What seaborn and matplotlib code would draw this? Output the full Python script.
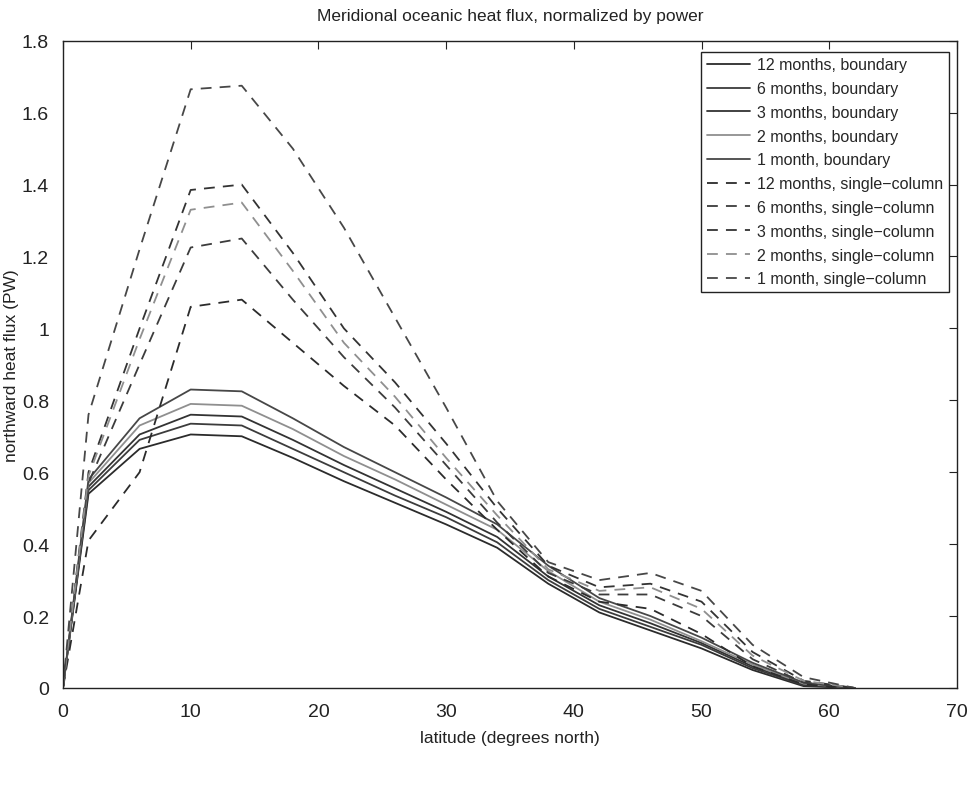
import numpy as np
import pandas as pd
import matplotlib
matplotlib.use("Agg")
import matplotlib.pyplot as plt
import seaborn as sns

latitude = [0, 2, 6, 10, 14, 18, 22, 26, 30, 34, 38, 42, 46, 50, 54, 58, 62]

# boundary (solid)
b12 = [0, 0.54, 0.665, 0.705, 0.700, 0.640, 0.575, 0.515, 0.455, 0.390, 0.290, 0.210, 0.160, 0.110, 0.050, 0.005, 0]
b6  = [0, 0.55, 0.690, 0.735, 0.730, 0.665, 0.600, 0.535, 0.475, 0.405, 0.300, 0.220, 0.170, 0.120, 0.055, 0.008, 0]
b3  = [0, 0.56, 0.705, 0.760, 0.755, 0.690, 0.620, 0.555, 0.490, 0.420, 0.310, 0.230, 0.180, 0.125, 0.060, 0.010, 0]
b2  = [0, 0.57, 0.730, 0.790, 0.785, 0.720, 0.645, 0.580, 0.510, 0.440, 0.325, 0.240, 0.190, 0.130, 0.065, 0.012, 0]
b1  = [0, 0.58, 0.750, 0.830, 0.825, 0.750, 0.670, 0.600, 0.530, 0.455, 0.340, 0.250, 0.200, 0.140, 0.070, 0.015, 0]

# single-column (dashed)
s12 = [0, 0.41, 0.600, 1.060, 1.080, 0.960, 0.840, 0.730, 0.580, 0.440, 0.310, 0.240, 0.220, 0.150, 0.060, 0.010, 0]
s6  = [0, 0.57, 0.900, 1.225, 1.250, 1.080, 0.920, 0.780, 0.620, 0.460, 0.320, 0.260, 0.260, 0.200, 0.080, 0.015, 0]
s3  = [0, 0.60, 1.000, 1.385, 1.400, 1.210, 1.000, 0.850, 0.680, 0.500, 0.340, 0.280, 0.290, 0.240, 0.100, 0.020, 0]
s2  = [0, 0.59, 0.970, 1.330, 1.350, 1.160, 0.960, 0.810, 0.640, 0.480, 0.330, 0.270, 0.280, 0.220, 0.090, 0.020, 0]
s1  = [0, 0.76, 1.220, 1.665, 1.675, 1.500, 1.280, 1.030, 0.780, 0.520, 0.350, 0.300, 0.320, 0.270, 0.120, 0.030, 0]

labels = ["12 months, boundary", "6 months, boundary", "3 months, boundary",
          "2 months, boundary", "1 month, boundary",
          "12 months, single\u2212column", "6 months, single\u2212column",
          "3 months, single\u2212column", "2 months, single\u2212column",
          "1 month, single\u2212column"]
series = [b12, b6, b3, b2, b1, s12, s6, s3, s2, s1]
colors = ["#2b2b2b", "#3c3c3c", "#333333", "#8f8f8f", "#474747",
          "#2b2b2b", "#3c3c3c", "#333333", "#8f8f8f", "#474747"]

sns.set_style("white")
plt.rcParams['font.family'] = ['Liberation Sans', 'DejaVu Sans']

fig = plt.figure(figsize=(9.67, 8.03), dpi=100)
ax = fig.add_axes([0.0651, 0.142, 0.9245, 0.806])

for i, (lab, vals, col) in enumerate(zip(labels, series, colors)):
    df = pd.DataFrame({"lat": latitude, "flux": vals})
    ls = "-" if i < 5 else (0, (6, 4.5))
    sns.lineplot(data=df, x="lat", y="flux", ax=ax, color=col, linewidth=1.3,
                 linestyle=ls, label=lab, sort=False)

ax.set_xlim(0, 70)
ax.set_ylim(0, 1.8)
xt = [0, 10, 20, 30, 40, 50, 60, 70]
yt = [0, 0.2, 0.4, 0.6, 0.8, 1.0, 1.2, 1.4, 1.6, 1.8]
ytl = ["0", "0.2", "0.4", "0.6", "0.8", "1", "1.2", "1.4", "1.6", "1.8"]
ax.set_xticks(xt)
ax.set_xticklabels([str(v) for v in xt])
ax.set_yticks(yt)
ax.set_yticklabels(ytl)
ax.tick_params(direction="in", length=6, width=0.8, labelsize=14, top=True, right=True,
               colors="#222222")
ax.tick_params(axis="x", pad=11)
ax.tick_params(axis="y", pad=10)
for s in ax.spines.values():
    s.set_visible(True)
    s.set_color("#222222")
    s.set_linewidth(1.0)

ax.set_xlabel("latitude (degrees north)", fontsize=12.5, color="#222222", labelpad=7)
ax.set_ylabel("northward heat flux (PW)", fontsize=12.5, color="#222222", labelpad=2)
ax.set_title("Meridional oceanic heat flux, normalized by power", fontsize=12.5,
             color="#222222", pad=15)

leg = ax.legend(loc="upper right", bbox_to_anchor=(0.991, 0.983), borderaxespad=0,
                fontsize=11.5, frameon=True, fancybox=False,
                edgecolor="#222222", framealpha=1, borderpad=0.35, labelspacing=0.55,
                handlelength=2.7, handletextpad=0.45)
leg.get_frame().set_linewidth(1.0)

fig.savefig("out.png", dpi=100)
